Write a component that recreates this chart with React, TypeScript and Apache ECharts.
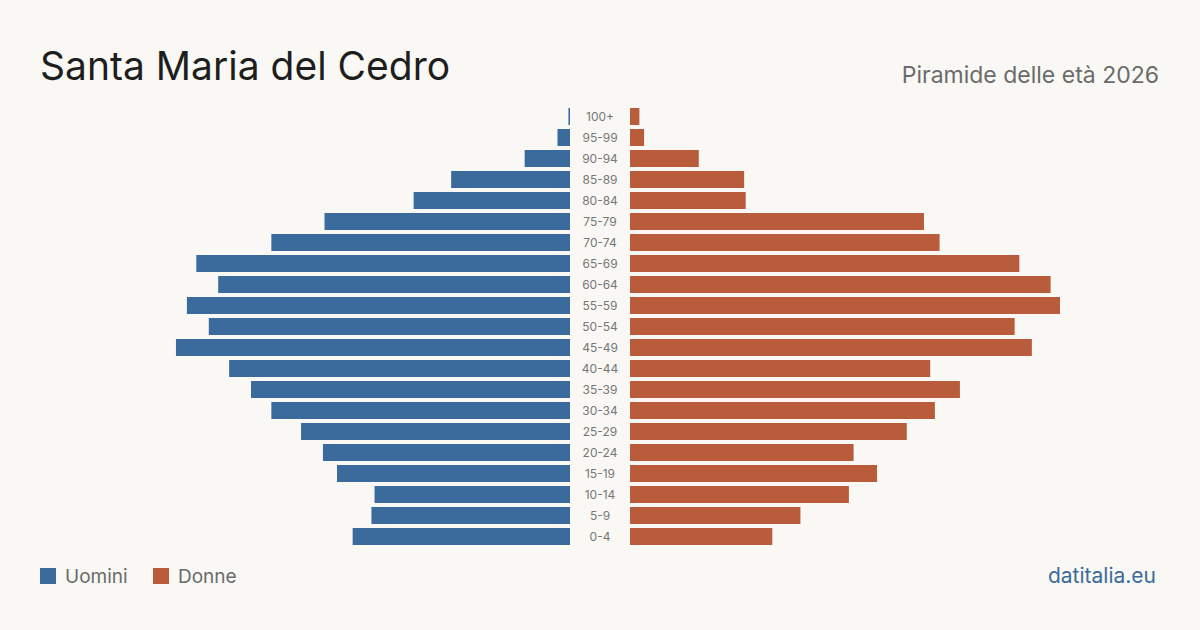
import React, { useEffect, useRef } from "react";
import * as echarts from "echarts";

const ages = ["0-4", "5-9", "10-14", "15-19", "20-24", "25-29", "30-34", "35-39", "40-44", "45-49", "50-54", "55-59", "60-64", "65-69", "70-74", "75-79", "80-84", "85-89", "90-94", "95-99", "100+"];
const men = [139, 127, 125, 149, 158, 172, 191, 204, 218, 252, 231, 245, 225, 239, 191, 157, 100, 76, 29, 8, 1];
const women = [91, 109, 140, 158, 143, 177, 195, 211, 192, 257, 246, 275, 269, 249, 198, 188, 74, 73, 44, 9, 6];

const title = "Santa Maria del Cedro";
const subtitle = "Piramide delle età 2026";
const source = "datitalia.eu";
const legendNames = ["Uomini", "Donne"];

const BLUE = "#3b6b9c";
const RED = "#b95c3c";
const FONT = "Inter, 'Noto Sans', sans-serif";

export default function App() {
  const ref = useRef<HTMLDivElement>(null);
  useEffect(() => {
    const chart = echarts.init(ref.current!, null, { renderer: "svg" });
    const maxV = 275;
    chart.setOption({
      animation: false,
      backgroundColor: "#f9f8f4",
      textStyle: { fontFamily: FONT },
      grid: [
        { left: 140, width: 430, top: 106, height: 441 },
        { left: 630, width: 430, top: 106, height: 441 },
      ],
      xAxis: [
        { type: "value", gridIndex: 0, inverse: true, min: 0, max: maxV, show: false },
        { type: "value", gridIndex: 1, min: 0, max: maxV, show: false },
      ],
      yAxis: [
        { type: "category", gridIndex: 0, data: ages, show: false },
        {
          type: "category",
          gridIndex: 1,
          data: ages,
          axisLine: { show: false },
          axisTick: { show: false },
          axisLabel: { align: "center", margin: 30, color: "#777", fontSize: 12, fontFamily: FONT },
        },
      ],
      series: [
        { name: legendNames[0], type: "bar", xAxisIndex: 0, yAxisIndex: 0, data: men, barWidth: 17, itemStyle: { color: BLUE } },
        { name: legendNames[1], type: "bar", xAxisIndex: 1, yAxisIndex: 1, data: women, barWidth: 17, itemStyle: { color: RED } },
      ],
      graphic: [
        { type: "text", left: 40, top: 46, style: { text: title, font: `39px ${FONT}`, fill: "#1e1e1e" } },
        { type: "text", right: 41, top: 63, style: { text: subtitle, font: `23px ${FONT}`, fill: "#6b6b6b" } },
        { type: "rect", shape: { x: 40, y: 568, width: 16, height: 16 }, style: { fill: BLUE } },
        { type: "text", left: 65, top: 567, style: { text: legendNames[0], font: `19px ${FONT}`, fill: "#6b6b6b" } },
        { type: "rect", shape: { x: 153, y: 568, width: 16, height: 16 }, style: { fill: RED } },
        { type: "text", left: 178, top: 567, style: { text: legendNames[1], font: `19px ${FONT}`, fill: "#6b6b6b" } },
        { type: "text", right: 44, top: 565, style: { text: source, font: `21px ${FONT}`, fill: "#3b6b9c" } },
      ],
    });
    return () => chart.dispose();
  }, []);
  return <div ref={ref} style={{ position: "fixed", left: 0, top: 0, width: 1200, height: 630 }} />;
}
